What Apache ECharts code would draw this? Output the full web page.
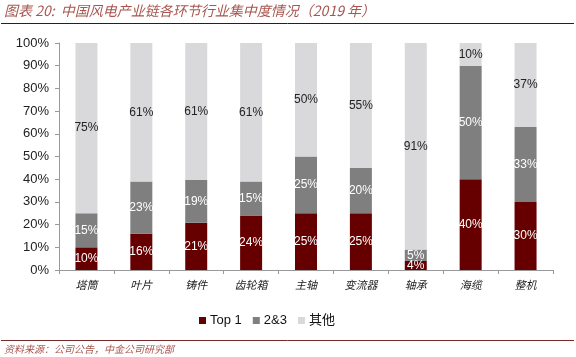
<!DOCTYPE html>
<html><head><meta charset="utf-8">
<script src="https://cdn.jsdelivr.net/npm/echarts@6/dist/echarts.min.js"></script>
<style>html,body{margin:0;padding:0;background:#fff}#c{width:576px;height:357px}</style>
</head><body><div id="c"></div>
<script>
const categories = ['塔筒','叶片','铸件','齿轮箱','主轴','变流器','轴承','海缆','整机'];
const top1 = [10,16,21,24,25,25,4,40,30];
const second3 = [15,23,19,15,25,20,5,50,33];
const others = [75,61,61,61,50,55,91,10,37];
const yTicks = ['0%','10%','20%','30%','40%','50%','60%','70%','80%','90%','100%'];
const seriesNames = ['Top 1','2&3','其他'];
const colors = ['#660000','#7f7f7f','#d9d9dc'];
const labelColors = ['#ffffff','#ffffff','#222222'];

const raw = [top1, second3, others];
const sums = categories.map((_, i) => top1[i] + second3[i] + others[i]);

const chart = echarts.init(document.getElementById('c'));
chart.setOption({
  animation: false,
  textStyle: {fontFamily: 'Liberation Sans, Noto Sans CJK SC'},
  grid: {left: 59, right: 23, top: 43, bottom: 87, containLabel: false},
  legend: {
    top: 309, left: 194, itemWidth: 7, itemHeight: 7, itemGap: 11,
    icon: 'rect',
    textStyle: {fontSize: 13, color: '#111', fontFamily: 'Liberation Sans, Noto Sans CJK SC', padding: [0,0,0,-1]},
    data: seriesNames
  },
  xAxis: {
    type: 'category', data: categories,
    axisLine: {lineStyle: {color: '#999'}},
    axisTick: {show: true, length: 4, lineStyle: {color: '#999'}},
    axisLabel: {color: '#222', fontSize: 11, margin: 9, fontFamily: 'Noto Sans CJK SC', fontStyle: 'italic'}
  },
  yAxis: {
    type: 'value', min: 0, max: 100, interval: 10,
    axisLine: {show: true, lineStyle: {color: '#999'}},
    axisTick: {show: true, length: 4, lineStyle: {color: '#999'}},
    splitLine: {show: false},
    axisLabel: {color: '#222', fontSize: 13, margin: 10,
      formatter: (v) => yTicks[Math.round(v / 10)]}
  },
  series: raw.map((arr, s) => ({
    name: seriesNames[s], type: 'bar', stack: 'total', barWidth: 22,
    itemStyle: {color: colors[s]},
    label: {show: true, position: 'inside', color: labelColors[s], fontSize: 12,
      formatter: (p) => arr[p.dataIndex] + '%'},
    data: arr.map((v, i) => v * 100 / sums[i])
  }))
});
chart.setOption({
  graphic: [
    {type: 'text', left: 4, top: 4, style: {text: '图表 20:  中国风电产业链各环节行业集中度情况（2019 年）', fill: '#a8554f', font: 'italic 14px "Noto Sans CJK SC"'}},
    {type: 'line', shape: {x1: 1, y1: 23.5, x2: 574, y2: 23.5}, style: {stroke: '#222', lineWidth: 1}},
    {type: 'line', shape: {x1: 1, y1: 340.5, x2: 574, y2: 340.5}, style: {stroke: '#7a2a2a', lineWidth: 1}},
    {type: 'text', left: 4, top: 344, style: {text: '资料来源：公司公告，中金公司研究部', fill: '#a8554f', font: 'italic 10px "Noto Sans CJK SC"'}}
  ]
});
</script></body></html>
